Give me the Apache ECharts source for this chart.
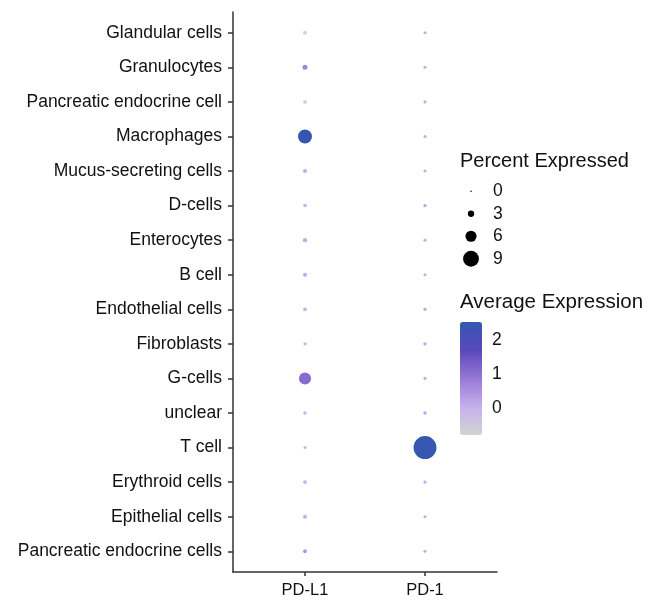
<!DOCTYPE html>
<html>
<head>
<meta charset="utf-8">
<script src="https://cdn.jsdelivr.net/npm/echarts@6/dist/echarts.min.js"></script>
<style>
html,body{margin:0;padding:0;background:#fff;}
#main{width:659px;height:600px;}
</style>
</head>
<body>
<div id="main"></div>
<script>
// cell types, top to bottom
var cellTypes = ['Glandular cells','Granulocytes','Pancreatic endocrine cell','Macrophages','Mucus-secreting cells','D-cells','Enterocytes','B cell','Endothelial cells','Fibroblasts','G-cells','unclear','T cell','Erythroid cells','Epithelial cells','Pancreatic endocrine cells'];
var genes = ['PD-L1','PD-1'];

// percent expressed
var pdl1Pct = [1.5, 2.2, 1.4, 7.8, 1.7, 1.3, 1.8, 1.6, 1.4, 1.1, 6.6, 1.2, 1.0, 1.4, 1.5, 1.5];
var pd1Pct  = [1.0, 1.0, 1.0, 1.0, 1.0, 1.1, 1.0, 1.0, 1.1, 1.2, 1.0, 1.2, 13.4, 1.1, 1.0, 1.0];
// average expression (scaled)
var pdl1Avg = [-0.7, 0.7, -0.7, 2.5, 0.1, 0.0, 0.1, 0.1, 0.0, -0.1, 1.1, 0.0, -0.1, 0.0, 0.1, 0.4];
var pd1Avg  = [0.1, 0.1, 0.1, 0.1, 0.1, 0.2, 0.1, 0.1, 0.2, 0.2, 0.1, 0.2, 2.5, 0.1, 0.1, 0.1];

var sizeBreaks = [0, 3, 6, 9];
var colorTicks = [0, 1, 2];
var colMin = -0.79, colMax = 2.54;

function dotSize(p) { return 1.5 + p * 1.6; }

var dots = [];
cellTypes.forEach(function (c, i) {
	dots.push([0, i, pdl1Avg[i], pdl1Pct[i]]);
	dots.push([1, i, pd1Avg[i], pd1Pct[i]]);
});

var font = 'Liberation Sans, Arial, sans-serif';
var chart = echarts.init(document.getElementById('main'));

option = {
	backgroundColor: '#fff',
	animation: false,
	title: [{
		text: 'Percent Expressed', left: 460, top: 151, padding: 0,
		textStyle: {fontFamily: font, fontSize: 20, fontWeight: 'normal', color: '#111'}
	}, {
		text: 'Average Expression', left: 460, top: 292, padding: 0,
		textStyle: {fontFamily: font, fontSize: 20.5, fontWeight: 'normal', color: '#111'}
	}],
	visualMap: {
		type: 'continuous',
		seriesIndex: 0,
		dimension: 2,
		min: colMin, max: colMax,
		left: 460, top: 322,
		padding: 0,
		itemWidth: 22, itemHeight: 113,
		calculable: false,
		showLabel: false,
		text: null,
		inRange: {color: ['#d3d3d3', '#c6b0ec', '#9778d6', '#5a48ba', '#3358b0']}
	},
	grid: [
		{left: 233, top: 12, right: 162, bottom: 28},
		{left: 455, top: 180, width: 32, height: 90},
		{left: 460, top: 322, width: 22, height: 113}
	],
	xAxis: [{
		gridIndex: 0, type: 'value', min: -0.6, max: 1.6,
		splitLine: {show: false},
		axisLine: {onZero: false, lineStyle: {color: '#333', width: 1.5}},
		axisTick: {customValues: [0, 1], length: 4, lineStyle: {color: '#333', width: 1.5}},
		axisLabel: {customValues: [0, 1], margin: 10, fontFamily: font, fontSize: 16.5, color: '#111',
			formatter: function (v) { return genes[Math.round(v)]; }}
	}, {
		gridIndex: 1, type: 'value', min: -1, max: 1, show: false
	}, {
		gridIndex: 2, type: 'value', min: 0, max: 1, show: false
	}],
	yAxis: [{
		gridIndex: 0, type: 'value', inverse: true, min: -0.6, max: 15.6,
		splitLine: {show: false},
		axisLine: {show: true, onZero: false, lineStyle: {color: '#333', width: 1.5}},
		axisTick: {show: true, customValues: cellTypes.map(function (c, i) { return i; }), length: 5, lineStyle: {color: '#333', width: 1.5}},
		axisLabel: {customValues: cellTypes.map(function (c, i) { return i; }), margin: 11, fontFamily: font, fontSize: 17.5, color: '#111',
			formatter: function (v) { return cellTypes[Math.round(v)]; }}
	}, {
		gridIndex: 1, type: 'value', inverse: true, min: -0.5, max: 3.5, position: 'right',
		splitLine: {show: false}, axisLine: {show: false}, axisTick: {show: false},
		axisLabel: {customValues: [0, 1, 2, 3], margin: 6, fontFamily: font, fontSize: 17.5, color: '#111',
			formatter: function (v) { return sizeBreaks[Math.round(v)]; }}
	}, {
		gridIndex: 2, type: 'value', min: colMin, max: colMax, position: 'right',
		splitLine: {show: false}, axisLine: {show: false},
		axisTick: {show: true, inside: true, length: 4, customValues: colorTicks, lineStyle: {color: 'rgba(255,255,255,0.7)'}},
		axisLabel: {customValues: colorTicks, margin: 10, fontFamily: font, fontSize: 17.5, color: '#111'}
	}],
	series: [{
		type: 'scatter',
		xAxisIndex: 0, yAxisIndex: 0,
		data: dots,
		symbolSize: function (d) { return dotSize(d[3]); },
		itemStyle: {opacity: 1}
	}, {
		type: 'scatter',
		xAxisIndex: 1, yAxisIndex: 1,
		data: sizeBreaks.map(function (b, i) { return [0, i, b]; }),
		symbolSize: function (d) { return dotSize(d[2]); },
		itemStyle: {color: '#000', opacity: 1}
	}]
};
chart.setOption(option);
</script>
</body>
</html>
